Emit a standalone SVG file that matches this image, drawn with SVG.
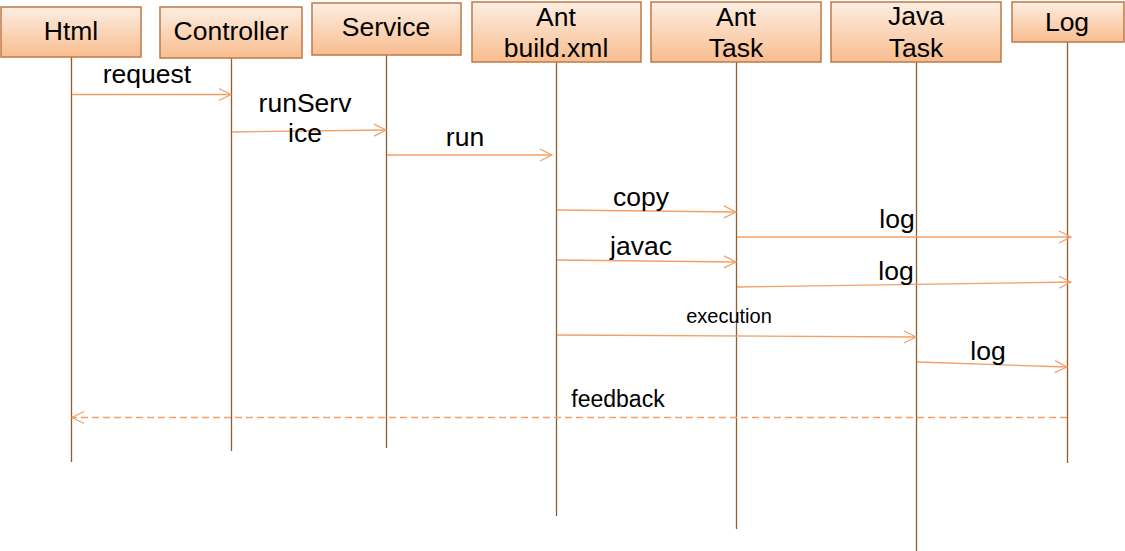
<svg xmlns="http://www.w3.org/2000/svg" width="1125" height="551" viewBox="0 0 1125 551">
<defs>
<linearGradient id="boxg" x1="0" y1="0" x2="0" y2="1">
<stop offset="0" stop-color="#FDEEE2"/>
<stop offset="1" stop-color="#F8BD8F"/>
</linearGradient>
<marker id="arr" markerUnits="userSpaceOnUse" markerWidth="16" markerHeight="16" refX="13" refY="7" orient="auto" viewBox="0 0 16 14">
<path d="M1,1 L13,7 L1,13" fill="none" stroke="#F2A066" stroke-width="1.2"/>
</marker>
</defs>
<style>
.box{fill:url(#boxg);stroke:#C07A45;stroke-width:1.5}
.lbl{font-family:"Liberation Sans",Arial,sans-serif;font-size:26.5px;fill:#000;text-anchor:middle}
.life{stroke:#8F5E2E;stroke-width:1.3;fill:none}
.msg{stroke:#F2A066;stroke-width:1.3;fill:none;marker-end:url(#arr)}
.dash{stroke-dasharray:7,4}
.mt{font-family:"Liberation Sans",Arial,sans-serif;font-size:26.5px;fill:#000;text-anchor:middle}
</style>
<rect width="1125" height="551" fill="#fff"/>
<g id="lifelines">
<line class="life" x1="71.5" y1="57" x2="71.5" y2="462"/>
<line class="life" x1="231.5" y1="58" x2="231.5" y2="451"/>
<line class="life" x1="386.5" y1="55" x2="386.5" y2="448"/>
<line class="life" x1="556.5" y1="62" x2="556.5" y2="516"/>
<line class="life" x1="736.5" y1="62" x2="736.5" y2="529"/>
<line class="life" x1="916.5" y1="62" x2="916.5" y2="551"/>
<line class="life" x1="1067.5" y1="42" x2="1067.5" y2="463"/>
</g>
<g id="html"><rect class="box" x="1" y="7" width="140" height="50"/><text class="lbl" x="71" y="40">Html</text></g>
<g id="controller"><rect class="box" x="160" y="7" width="142" height="51"/><text class="lbl" x="231" y="40">Controller</text></g>
<g id="service"><rect class="box" x="312" y="3" width="149" height="52"/><text class="lbl" x="386" y="36">Service</text></g>
<g id="antbuild"><rect class="box" x="472" y="2" width="169" height="60"/><text class="lbl" x="556" y="26">Ant</text><text class="lbl" x="556" y="57">build.xml</text></g>
<g id="anttask"><rect class="box" x="651" y="2" width="170" height="60"/><text class="lbl" x="736" y="26">Ant</text><text class="lbl" x="736" y="57">Task</text></g>
<g id="javatask"><rect class="box" x="831" y="2" width="170" height="60"/><text class="lbl" x="916" y="25">Java</text><text class="lbl" x="916" y="57">Task</text></g>
<g id="log"><rect class="box" x="1012" y="2" width="112" height="40"/><text class="lbl" x="1067" y="31">Log</text></g>
<g id="connectors">
<line class="msg" x1="72" y1="94.5" x2="231" y2="94.5"/>
<line class="msg" x1="232" y1="132" x2="386" y2="130"/>
<line class="msg" x1="387" y1="155" x2="552" y2="155"/>
<line class="msg" x1="557" y1="210" x2="736" y2="212"/>
<line class="msg" x1="737" y1="237" x2="1071" y2="237"/>
<line class="msg" x1="557" y1="260" x2="736" y2="262"/>
<line class="msg" x1="737" y1="287" x2="1071" y2="282"/>
<line class="msg" x1="557" y1="335" x2="916" y2="337"/>
<line class="msg" x1="917" y1="362" x2="1067" y2="367"/>
<line class="msg dash" x1="1067" y1="417.5" x2="72" y2="417.5"/>
</g>
<g id="labels">
<text class="mt" x="147" y="83">request</text>
<text class="mt" x="305" y="112">runServ</text>
<text class="mt" x="305" y="142">ice</text>
<text class="mt" x="465" y="146">run</text>
<text class="mt" x="641" y="206">copy</text>
<text class="mt" x="897" y="228">log</text>
<text class="mt" x="641" y="255">javac</text>
<text class="mt" x="896" y="280">log</text>
<text class="mt" x="729" y="323" style="font-size:20px">execution</text>
<text class="mt" x="988" y="360">log</text>
<text class="mt" x="618" y="407" style="font-size:23px">feedback</text>
</g>
</svg>
